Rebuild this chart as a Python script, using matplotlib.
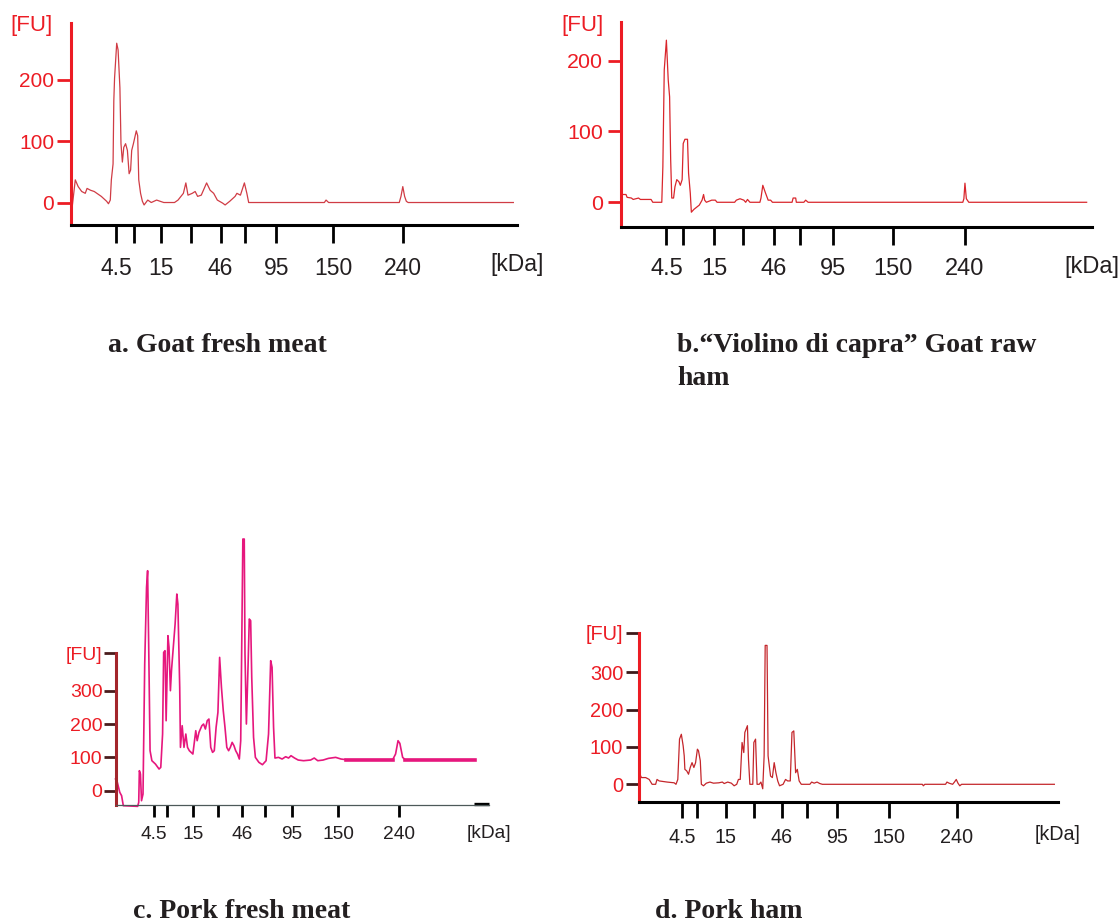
import matplotlib.pyplot as plt
import numpy as np

W, H = 1119, 922

# kDa ladder marks, only some of them carry a label
LADDER = ['4.5', '', '15', '', '46', '', '95', '150', '240']

# a. Goat fresh meat (x = migration position, FU = fluorescence)
A_X = [1, 4, 6.7, 10, 13.3, 15, 18.3, 21.7, 28.3, 33.3, 35, 36.7, 37.7, 39.3, 40,
       40.7, 42.7, 44, 45.7, 46.7, 48, 49.3, 51, 52.7, 54.3, 55.7, 56.7, 58.3, 61, 62.3,
       63.3, 65, 66.7, 68.3, 71.7, 75, 80, 83.3, 86.7, 96.7, 100, 105, 107.3, 109.3, 113.3,
       116, 118.3, 121.7, 126.7, 130, 133.3, 136.7, 141.7, 144, 148.3, 153.3, 155, 158.3, 162, 164.3,
       166, 236.7, 238.3, 240.7, 306.7, 308.3, 310, 311.7, 313.3, 315, 413.3]
A_FU = [-9, 37, 26, 18, 15, 23, 20, 18, 10, 2, -2, 4, 37, 63, 166,
        203, 260, 249, 187, 96, 66, 90, 96, 85, 47, 53, 85, 96, 117, 109,
        37, 15, 2, -4, 4, 0, 4, 2, 0, 0, 4, 15, 32, 12, 15,
        18, 10, 12, 32, 20, 15, 4, -1, -4, 2, 10, 15, 12, 32, 15,
        0, 0, 4, 0, 0, 10, 26, 10, 2, 0, 0]
A_TICKS = [42.3, 58.7, 84, 112, 139.7, 162.7, 191.7, 245, 310]

# b. "Violino di capra" goat raw ham
B_X = [1, 4.3, 5.3, 9.3, 11, 16, 17.7, 27.7, 29.3, 37.7, 38.7, 40, 42, 43.7, 45,
       46, 47, 48.7, 50, 51.7, 53.7, 55, 56.7, 57.7, 59.3, 61.7, 62.7, 64.3, 65.3, 67.7,
       72.7, 75.3, 76.7, 77.7, 79.3, 84.3, 87.7, 89.3, 105.7, 107.3, 110.7, 114.3, 116, 117.7, 120,
       129.3, 130.3, 132, 134.3, 137, 139.3, 141, 159.3, 160.3, 162.7, 163.3, 170.3, 172, 174.3, 318.7,
       319.7, 320.7, 322, 324.3, 434.3]
B_FU = [11, 11, 7, 6, 4, 6, 4, 4, 0, 0, 50, 187, 229, 173, 149,
        60, 6, 6, 22, 32, 29, 24, 32, 83, 89, 89, 41, 13, -14, -10,
        -4, 3, 11, 3, 0, 3, 3, 0, 0, 3, 5, 3, 0, 4, 0,
        0, 6, 24, 14, 3, 3, 0, 0, 6, 6, 0, 0, 3, 0, 0,
        5, 27, 5, 0, 0]
B_TICKS = [42, 57.7, 86.7, 113.3, 142, 166.7, 197.7, 253.3, 320.3]

# c. Pork fresh meat
C_X = [0, 1.7, 4, 5.7, 7.3, 20.7, 21.7, 22.3, 23.3, 24.3, 25.7, 27.3, 29, 30, 31,
       32.3, 34, 37.3, 40.7, 42.3, 44, 45, 46.3, 47.3, 49, 50, 51.3, 52.3, 54, 55.7,
       57.3, 58.3, 60, 60.7, 62.3, 64, 65.7, 67.3, 69, 72.3, 75, 76.3, 78, 80.7, 82.3,
       84, 85.7, 87.3, 89, 90.7, 92.3, 94, 95.7, 97.3, 99, 100.7, 102.3, 104, 105.7, 107.3,
       109, 110.7, 112.3, 114, 115.7, 117, 118, 119, 120.3, 121, 122.3, 124, 125, 126.3, 127.3,
       129, 130.7, 134, 137.3, 140.7, 143, 145, 146.3, 147.7, 149, 152.3, 155.7, 159, 161.7, 164,
       167.3, 170.7, 175.7, 182.3, 185.7, 189, 194, 199, 205.7, 210.7, 215.7, 222.3, 259, 261.7, 264,
       265.7, 268.3, 270.7, 335.7]
C_FU = [35, 25, -5, -15, -45, -47, -35, 60, 50, -30, -10, 380, 610, 660, 440,
        120, 90, 80, 65, 70, 170, 415, 420, 210, 465, 430, 300, 360, 430, 500,
        590, 560, 310, 130, 195, 130, 170, 130, 120, 110, 180, 150, 175, 195, 200,
        185, 210, 215, 130, 115, 120, 190, 235, 400, 310, 240, 190, 130, 120, 130,
        145, 135, 120, 110, 95, 150, 450, 755, 755, 410, 200, 390, 515, 510, 340,
        160, 100, 85, 78, 90, 170, 390, 370, 190, 98, 100, 95, 102, 98, 105,
        98, 92, 90, 92, 98, 90, 92, 97, 100, 95, 93, 93, 93, 110, 150,
        142, 100, 93, 93]
C_TICKS = [35.7, 48, 72.3, 95.7, 118.3, 139.7, 165, 208.3, 265]

# d. Pork ham
D_X = [0.7, 2.7, 6.7, 10, 12.7, 16, 17.3, 19.3, 26.7, 33.3, 35, 36.7, 38.3, 40, 41.7,
       42.7, 43.3, 45, 46.7, 48.3, 50, 51.7, 53.3, 55, 56, 57.7, 58.7, 60.7, 63.3, 66.7,
       70, 75, 78.3, 80, 83.3, 86.7, 89.3, 91.7, 93.3, 95, 96.7, 98.3, 99.3, 101.7, 102.7,
       104, 106.7, 107.7, 109.3, 110.7, 112.7, 114.3, 116, 117.3, 118.3, 120, 121, 123.3, 125, 126.7,
       128.3, 130, 131.7, 135, 137.3, 139.3, 141.7, 143.3, 145, 146.7, 148.3, 150, 152, 160, 161.7,
       164, 166.7, 169.3, 171.7, 265, 266, 267.3, 286.7, 288, 290, 293.3, 295, 296.7, 298.3, 300,
       301.7, 388.3]
D_FU = [31, 18, 18, 13, 0, 0, 13, 9, 6, 4, 0, 13, 121, 134, 103,
        76, 40, 36, 27, 45, 58, 45, 58, 94, 90, 63, 0, -4, 3, 6,
        3, 4, 6, 2, 6, 3, -4, 0, 13, 13, 112, 85, 139, 157, 67,
        0, 0, 112, 121, 0, 0, 6, -12, 76, 372, 372, 76, 22, 18, 58,
        31, 9, -4, 0, 13, 9, 9, 139, 143, 31, 40, 9, 0, 0, 6,
        3, 6, 2, 0, 0, -4, 0, 0, 6, 3, 0, 6, 13, 3, -4,
        0, 0]
D_TICKS = [41, 54.3, 81.7, 107.7, 134, 157.3, 185, 234, 297.3]

RED = '#ec1c24'
INK = '#231f20'

plt.rcParams['font.family'] = ['Liberation Sans', 'DejaVu Sans']
fig = plt.figure(figsize=(W / 100, H / 100), dpi=100)


def panel(box, xlim, ylim):
    l, t, r, b = box
    ax = fig.add_axes([l / W, 1 - b / H, (r - l) / W, (b - t) / H])
    ax.set_xlim(*xlim)
    ax.set_ylim(*ylim)
    ax.patch.set_visible(False)
    ax.spines['top'].set_visible(False)
    ax.spines['right'].set_visible(False)
    return ax


def dress(ax, ticks, yticks, ylabels, xfs, yfs, ycol, ytc, xcol, xlw,
          xlen, ylen, xpad, ypad, kda_dy):
    ax.spines['left'].set_color(ycol)
    ax.spines['left'].set_linewidth(2.2)
    ax.spines['bottom'].set_color(xcol)
    ax.spines['bottom'].set_linewidth(xlw)
    ax.set_xticks(ticks, LADDER)
    ax.set_yticks(yticks, ylabels)
    ax.tick_params(axis='x', direction='out', length=xlen, width=2.0, color='black',
                   pad=xpad, labelsize=xfs, labelcolor=INK)
    ax.tick_params(axis='y', direction='out', length=ylen, width=2.0, color=ytc,
                   pad=ypad, labelsize=yfs, labelcolor=RED)
    ax.annotate('[kDa]', xy=(1, 0), xycoords='axes fraction', xytext=(0, -kda_dy),
                textcoords='offset pixels', ha='center', va='center',
                fontsize=xfs, color=INK)


# a
ax = panel((71, 23, 517, 225), (0, 416.7), (-36.7, 293))
ax.plot(A_X, A_FU, color='#d03c45', lw=0.9)
dress(ax, A_TICKS, [0, 100, 200], ['0', '100', '200'], 16.5, 15, RED, RED, 'black', 2.2,
      13, 10, 10, 2.2, 40)
ax.annotate('[FU]', xy=(0, 1), xycoords='axes fraction', xytext=(-18, -3),
            textcoords='offset pixels', ha='right', va='center', fontsize=16, color=RED)

# b
ax = panel((621.4, 21.7, 1092, 226.7), (0, 439.3), (-34.5, 255.1))
ax.plot(B_X, B_FU, color='#d9262c', lw=0.9)
dress(ax, B_TICKS, [0, 100, 200], ['0', '100', '200'], 17, 15.4, RED, RED, 'black', 2.2,
      13, 9.4, 9.7, 3.6, 40)
ax.annotate('[FU]', xy=(0, 1), xycoords='axes fraction', xytext=(-18, -4),
            textcoords='offset pixels', ha='right', va='center', fontsize=16, color=RED)

# c
ax = panel((115.5, 653.3, 489, 805), (0, 349), (-42.9, 412.2))
cx = np.array(C_X)
cfu = np.array(C_FU, dtype=float)
ax.plot(cx, cfu, color='#e6177d', lw=1.2, clip_on=False)
ax.plot(cx, np.where((cx >= 212) & (cfu <= 95), cfu, np.nan), color='#e6177d', lw=2.6,
        clip_on=False)
dress(ax, C_TICKS, [0, 100, 200, 300, 412.2], ['0', '100', '200', '300', '[FU]'],
      13.8, 14, '#a3262c', '#4a1c1c', '#4d5959', 0.9, 8.6, 8.6, 6.5, 0.8, 28)
ax.plot([0.96, 1.0], [0.008, 0.008], transform=ax.transAxes, color='black', lw=2.4,
        solid_capstyle='butt', clip_on=False)

# d
ax = panel((638.5, 632.7, 1058, 801.7), (0, 391.7), (-46.6, 406))
ax.plot(D_X, D_FU, color='#c4262b', lw=0.9)
dress(ax, D_TICKS, [0, 100, 200, 300, 406], ['0', '100', '200', '300', '[FU]'],
      14.2, 14.4, RED, '#3c1a1a', 'black', 2.2, 11.3, 9.4, 7.6, 1.5, 33)

# captions
cap = dict(family=['Liberation Serif', 'DejaVu Serif'], weight='bold', fontsize=20,
           color=INK, va='center', ha='left')
fig.text(108 / W, 1 - 345 / H, 'a. Goat fresh meat', **cap)
fig.text(677 / W, 1 - 345 / H, 'b.\u201cViolino di capra\u201d Goat raw', **cap)
fig.text(677 / W, 1 - 378 / H, 'ham', **cap)
fig.text(133 / W, 1 - 911 / H, 'c. Pork fresh meat', **cap)
fig.text(655 / W, 1 - 911 / H, 'd. Pork ham', **cap)

fig.savefig('out.png', dpi=100)
